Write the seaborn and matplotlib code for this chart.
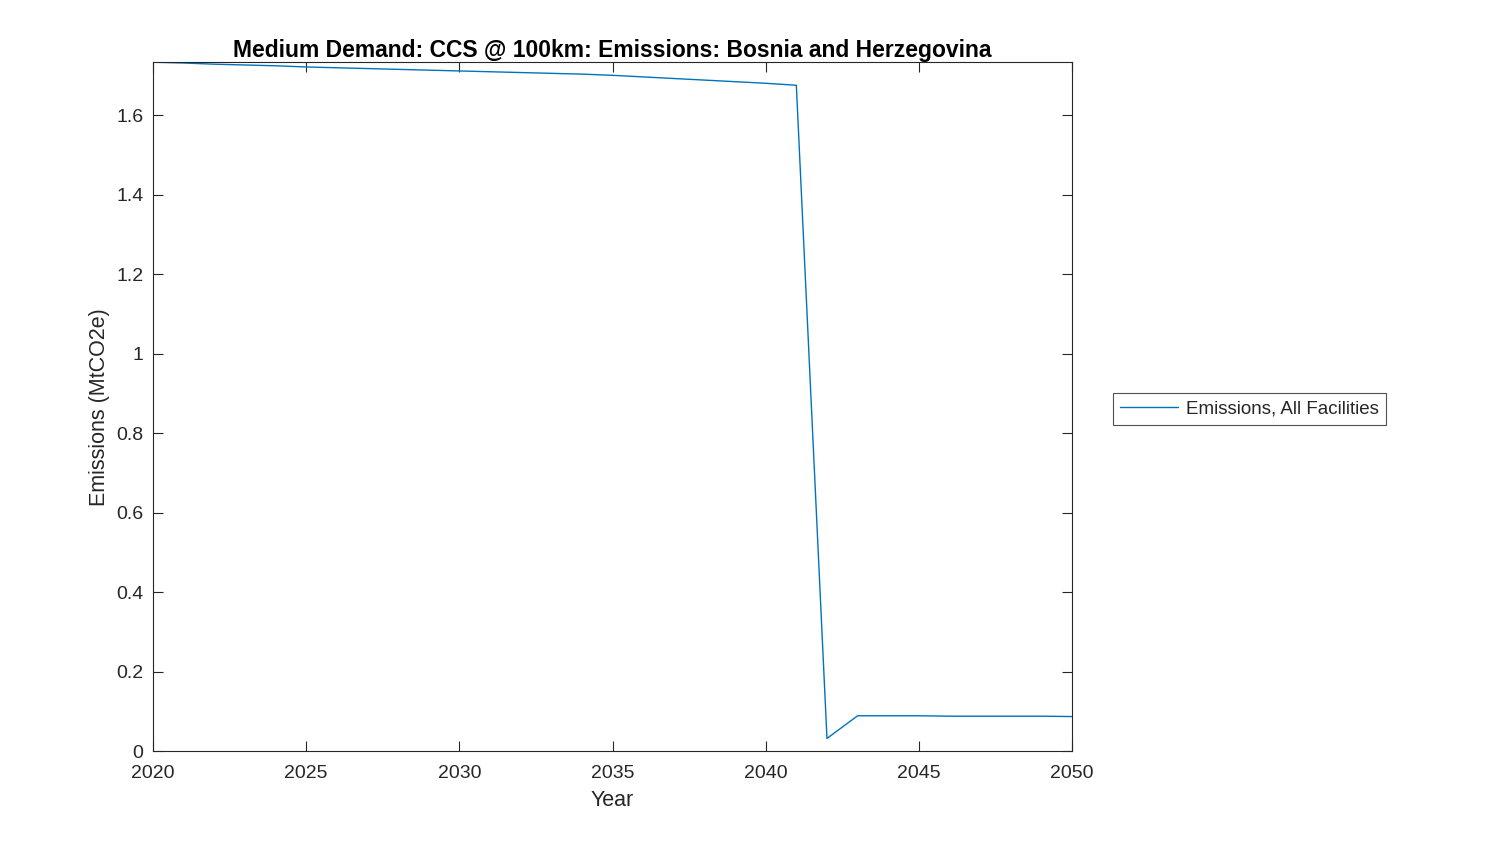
import pandas as pd
import seaborn as sns
import matplotlib.pyplot as plt

# emissions per year (MtCO2e)
years = list(range(2020, 2051))
emissions = [1.733, 1.731, 1.728, 1.726, 1.724, 1.721, 1.719, 1.717, 1.715, 1.713,
             1.711, 1.709, 1.707, 1.705, 1.703, 1.700, 1.696, 1.692, 1.688, 1.684,
             1.680, 1.675, 0.032, 0.089, 0.089, 0.089, 0.088, 0.088, 0.088, 0.088,
             0.087]
series_name = "Emissions, All Facilities"

df = pd.DataFrame({"Year": years, "Emissions": emissions, "series": series_name})

sns.set_theme(style="ticks")
plt.rcParams["font.family"] = ["Liberation Sans", "DejaVu Sans"]

fig = plt.figure(figsize=(15, 8.44), dpi=100)
ax = fig.add_axes([0.102, 0.110, 0.6127, 0.8163])

sns.lineplot(data=df, x="Year", y="Emissions", hue="series", palette=["#0072BD"],
             linewidth=1.0, ax=ax)

ax.set_xlim(2020, 2050)
ax.set_ylim(0, 1.733)
ax.set_xticks([2020, 2025, 2030, 2035, 2040, 2045, 2050])
ax.set_yticks([0, 0.2, 0.4, 0.6, 0.8, 1, 1.2, 1.4, 1.6])
ax.set_yticklabels(["0", "0.2", "0.4", "0.6", "0.8", "1", "1.2", "1.4", "1.6"])
ax.tick_params(direction="in", top=True, right=True, labelsize=14, length=7,
               width=0.8, colors="#262626")
ax.tick_params(axis="x", pad=10)
ax.tick_params(axis="y", pad=7)
for s in ax.spines.values():
    s.set_linewidth(0.8)
    s.set_color("#262626")

ax.set_xlabel("Year", fontsize=15.5, color="#262626", labelpad=6)
ax.set_ylabel("Emissions (MtCO2e)", fontsize=15.5, color="#262626", labelpad=4)
ax.set_title("Medium Demand: CCS @ 100km: Emissions: Bosnia and Herzegovina",
             fontsize=16.5, fontweight="bold", color="black", pad=4)

leg = ax.legend(loc="center left", bbox_to_anchor=(1.034, 0.497), fontsize=13.5,
                frameon=True, fancybox=False, edgecolor="#262626", handlelength=3.1,
                handletextpad=0.4, borderpad=0.4)
leg.get_frame().set_linewidth(0.8)

fig.savefig("out.png", dpi=100, facecolor="white")
